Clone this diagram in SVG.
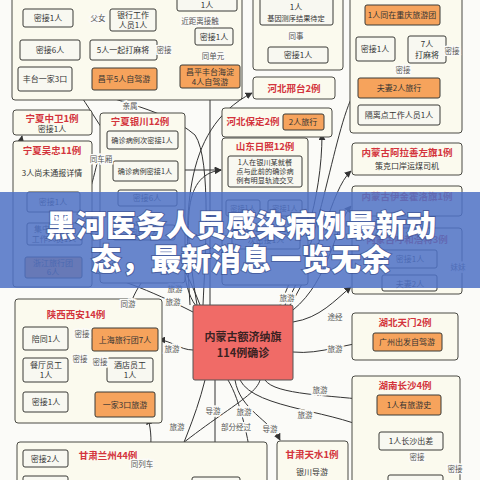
<svg xmlns="http://www.w3.org/2000/svg" width="480" height="480" viewBox="0 0 480 480">
<defs>
<marker id="a" viewBox="0 0 10 10" refX="9" refY="5" markerWidth="7" markerHeight="7" orient="auto-start-reverse"><path d="M0,0 L10,5 L0,10 z" fill="#333"/></marker>
<style>
.c{fill:#fbfaee;stroke:#4a4a44;stroke-width:1}
.b{fill:#f8f8f1;stroke:#3a3a36;stroke-width:1}
.o{fill:#f6a35c;stroke:#3a3a36;stroke-width:1}
text{font-family:"Noto Sans CJK SC","Noto Sans",sans-serif;text-anchor:middle}
.t{font-size:8px;fill:#333}
.s{font-size:7.2px;fill:#333}
.r{font-size:9.5px;fill:#d3343c;font-weight:bold}
.l{font-size:7.5px;fill:#555;paint-order:stroke;stroke:#fbfbf8;stroke-width:3}
.e path,.e line{fill:none;stroke:#333;stroke-width:1}
.m{marker-end:url(#a)}
</style>
</defs>
<rect width="480" height="480" fill="#fbfbf8"/>
<g id="edges" class="e">
<path class="m" d="M210,305 L210,90"/>
<path class="m" d="M200,305 C180,250 110,140 79,93"/>
<path class="m" d="M190,305 C185,220 180,130 252,93"/>
<path d="M72,82 C100,100 160,105 195,135 C212,160 205,260 203,305"/>
<path class="m" d="M280,305 C300,260 322,200 322,134"/>
<path class="m" d="M285,305 C320,250 335,120 356,90"/>
<path class="m" d="M290,305 C320,260 330,190 351,171"/>
<path class="m" d="M293,310 C330,280 335,225 351,206"/>
<path class="m" d="M293,322 C320,318 335,300 351,287"/>
<path class="m" d="M293,352 C320,355 350,342 372,342"/>
<path class="m" d="M197,305 C185,230 180,175 221,170"/>
<path class="m" d="M193,312 C150,290 110,275 83,270"/>
<path class="m" d="M196,306 C180,285 185,245 176,234"/>
<path class="m" d="M193,350 C180,350 170,340 159,340"/>
<path class="m" d="M215,380 L215,476"/>
<path d="M205,380 C195,420 180,450 165,490"/>
<path d="M260,380 C255,400 200,420 130,490"/>
<path class="m" d="M128,490 C150,470 155,445 148,418"/>
<path class="m" d="M265,380 C275,395 330,395 376,401"/>
<path class="m" d="M240,380 C255,410 340,410 378,434"/>
<path class="m" d="M235,380 C240,410 270,420 280,440"/>
<path d="M385,450 C370,460 365,475 362,490"/>
<path d="M228,380 C240,400 250,440 255,490"/>
<path class="m" d="M110,18 L74,18"/>
<path class="m" d="M235,21 L157,21"/>
<path d="M180,76 C165,72 158,45 165,24"/>
<path class="m" d="M213,65 L213,46"/>
<path class="m" d="M90,50 L81,50"/>
<path class="m" d="M296,25 L296,46"/>
<path class="m" d="M408,50 L396,50"/>
<path class="m" d="M380,78 C380,68 425,72 432,64"/>
<path class="m" d="M440,88 C456,80 456,25 441,16"/>
<path class="m" d="M437,283 C460,280 460,262 438,258"/>
<path class="m" d="M411,450 L411,474"/>
<path d="M443,441 C458,445 462,470 456,490"/>
<path class="m" d="M92,339 L69,339"/>
<path class="m" d="M100,351 C95,362 82,370 69,372"/>
<path class="m" d="M103,351 C100,365 100,372 107,374"/>
<path class="m" d="M95,404 L69,404"/>
<path d="M160,262 C140,280 128,300 126,327"/>
<path class="m" d="M75,490 C75,470 76,462 69,459"/>
<path class="m" d="M27,205 C17,190 17,160 22,136"/>
<path class="m" d="M107,143 C95,150 95,195 81,203"/>
<path class="m" d="M185,170 L221,170"/>
<path class="m" d="M245,187 L245,200"/>
<path class="m" d="M285,187 L285,200"/>
<path class="m" d="M265,216 L265,231"/>
</g>
<g id="beijing"><rect class="c" x="12" y="-5" width="230" height="105" rx="3"/></g>
<g id="n_mj1a"><rect class="b" x="23" y="9" width="50" height="18" rx="2"/><text class="t" x="48" y="21">密接1人</text></g>
<g id="n_bank"><rect class="b" x="110" y="9" width="46" height="22" rx="2"/><text class="t" x="133" y="18">银行工作</text><text class="t" x="133" y="28">人员1人</text></g>
<g id="n_mj6a"><rect class="b" x="20" y="40" width="60" height="20" rx="2"/><text class="t" x="50" y="53">密接6人</text></g>
<g id="n_mj5"><rect class="b" x="90" y="40" width="67" height="20" rx="2"/><text class="t" x="123" y="53">5人一起打麻将</text></g>
<g id="n_ft3"><rect class="b" x="18" y="67" width="54" height="24" rx="2"/><text class="t" x="45" y="82">丰台一家3口</text></g>
<g id="n_cp5"><rect class="o" x="92" y="68" width="65" height="22" rx="2"/><text class="t" x="124" y="82">昌平5人自驾游</text></g>
<g id="n_top1"><rect class="b" x="177" y="-5" width="60" height="16" rx="2"/><text class="t" x="207" y="8">1人</text></g>
<g id="n_mj1b"><rect class="b" x="195" y="28" width="38" height="17" rx="2"/><text class="t" x="214" y="40">密接1人</text></g>
<g id="n_cp4"><rect class="o" x="180" y="65" width="60" height="23" rx="2"/><text class="t" x="210" y="75">昌平丰台海淀</text><text class="t" x="210" y="85">4人自驾游</text></g>
<g id="c_b"><rect class="c" x="253" y="-5" width="90" height="75" rx="3"/></g>
<g id="n_gene"><rect class="b" x="260" y="-5" width="73" height="30" rx="2"/><text class="t" x="296" y="10">1人</text><text class="s" x="296" y="21">基因测序结果待定</text></g>
<g id="n_mj1c"><rect class="b" x="268" y="47" width="60" height="16" rx="2"/><text class="t" x="298" y="58">密接1人</text></g>
<g id="n_xt"><rect class="c" x="253" y="77" width="82" height="22" rx="3"/><text class="r" x="294" y="92">河北邢台2例</text></g>
<g id="c_cq"><rect class="c" x="350" y="-5" width="112" height="138" rx="3"/></g>
<g id="n_cq"><rect class="o" x="365" y="5" width="75" height="20" rx="2"/><text class="t" x="402" y="18">1人同在重庆旅游团</text></g>
<g id="n_mj1d"><rect class="b" x="356" y="37" width="39" height="24" rx="2"/><text class="t" x="375" y="52">密接1人</text></g>
<g id="n_7r"><rect class="b" x="408" y="36" width="38" height="27" rx="2"/><text class="t" x="427" y="47">7人</text><text class="t" x="427" y="58">打麻将</text></g>
<g id="n_fq"><rect class="o" x="358" y="78" width="82" height="20" rx="2"/><text class="t" x="399" y="91">夫妻2人旅行</text></g>
<g id="n_gl"><rect class="b" x="358" y="105" width="82" height="20" rx="2"/><text class="t" x="399" y="118">隔离点工作人员1人</text></g>
<g id="n_als"><rect class="c" x="352" y="143" width="110" height="32" rx="3"/><text class="r" x="407" y="156">内蒙古阿拉善左旗1例</text><text class="t" x="407" y="169">策克口岸运煤司机</text></g>
<g id="n_yj"><rect class="c" x="352" y="186" width="110" height="30" rx="3"/><text class="r" x="407" y="200">内蒙古伊金霍洛旗1例</text></g>
<g id="c_hh"><rect class="c" x="352" y="228" width="110" height="66" rx="3"/><text class="r" x="407" y="243">内蒙古呼和浩特3例</text></g>
<g id="n_mj1e"><rect class="b" x="382" y="250" width="55" height="18" rx="2"/><text class="t" x="410" y="262">密接1人</text></g>
<g id="n_fq2"><rect class="b" x="382" y="275" width="55" height="16" rx="2"/><text class="t" x="410" y="287">夫妻2人</text></g>
<g id="c_tm"><rect class="c" x="352" y="313" width="106" height="47" rx="3"/><text class="r" x="405" y="326">湖北天门2例</text></g>
<g id="n_gz"><rect class="o" x="373" y="333" width="69" height="18" rx="2"/><text class="t" x="407" y="345">广州出发自驾游</text></g>
<g id="c_cs"><rect class="c" x="352" y="376" width="108" height="115" rx="3"/><text class="r" x="405" y="389">湖南长沙4例</text></g>
<g id="n_ly"><rect class="o" x="377" y="395" width="64" height="20" rx="2"/><text class="t" x="409" y="408">1人有旅游史</text></g>
<g id="n_cc"><rect class="b" x="379" y="432" width="64" height="18" rx="2"/><text class="t" x="411" y="444">1人长沙出差</text></g>
<g id="n_csb"><rect class="b" x="388" y="475" width="55" height="20" rx="2"/></g>
<g id="c_ts"><rect class="c" x="277" y="441" width="71" height="50" rx="3"/><text class="r" x="312" y="458">甘肃天水1例</text><text class="t" x="312" y="475">银川导游</text></g>
<g id="n_center"><rect x="193" y="305" width="100" height="75" rx="2" fill="#f06b67" stroke="#555" stroke-width="1"/><text x="243" y="341" font-size="11" font-weight="bold" fill="#3a2222">内蒙古额济纳旗</text><text x="243" y="357" font-size="11" font-weight="bold" fill="#3a2222">114例确诊</text></g>
<g id="c_xa"><rect class="c" x="15" y="299" width="147" height="124" rx="3"/><text class="r" x="76" y="318">陕西西安14例</text></g>
<g id="n_pt"><rect class="b" x="23" y="327" width="45" height="23" rx="2"/><text class="t" x="46" y="342">陪同1人</text></g>
<g id="n_sh"><rect class="o" x="92" y="328" width="66" height="23" rx="2"/><text class="t" x="125" y="343">上海旅行团7人</text></g>
<g id="n_ct"><rect class="b" x="23" y="358" width="45" height="24" rx="2"/><text class="t" x="46" y="368">餐厅员工</text><text class="t" x="46" y="378">1人</text></g>
<g id="n_jd"><rect class="b" x="107" y="358" width="46" height="24" rx="2"/><text class="t" x="130" y="368">酒店员工</text><text class="t" x="130" y="378">1人</text></g>
<g id="n_mj1f"><rect class="b" x="23" y="392" width="45" height="20" rx="2"/><text class="t" x="46" y="405">密接1人</text></g>
<g id="n_j3"><rect class="o" x="95" y="392" width="60" height="25" rx="2"/><text class="t" x="125" y="408">一家3口旅游</text></g>
<g id="c_lz"><rect class="c" x="17" y="442" width="250" height="50" rx="3"/><text class="r" x="108" y="459">甘肃兰州44例</text></g>
<g id="n_mj2"><rect class="b" x="23" y="450" width="45" height="17" rx="2"/><text class="t" x="45" y="462">密接2人</text></g>
<g id="n_lzb"><rect class="b" x="23" y="476" width="45" height="14" rx="2"/></g>
<g id="n_lzc"><rect class="b" x="192" y="477" width="48" height="14" rx="2"/></g>
<g id="n_zw"><rect class="c" x="13" y="110" width="79" height="25" rx="3"/><text class="r" x="52" y="122">宁夏中卫1例</text><text class="t" x="52" y="132">密接1人</text></g>
<g id="c_wz"><rect class="c" x="13" y="141" width="79" height="146" rx="3"/><text class="r" x="52" y="154">宁夏吴忠11例</text><text class="t" x="52" y="176">3人尚未通报详情</text></g>
<g id="n_mj1g"><rect class="b" x="27" y="192" width="53" height="20" rx="2"/><text class="t" x="53" y="205">密接1人</text></g>
<g id="n_jz"><rect class="b" x="27" y="223" width="55" height="22" rx="2"/><text class="t" x="54" y="232">集中隔离点</text><text class="t" x="54" y="242">工作人员1人</text></g>
<g id="n_zj"><rect class="o" x="25" y="257" width="57" height="21" rx="2"/><text class="t" x="53" y="266">浙江旅行团</text><text class="t" x="53" y="275">6人</text></g>
<g id="c_yc"><rect class="c" x="100" y="113" width="85" height="170" rx="3"/><text class="r" x="140" y="125">宁夏银川12例</text></g>
<g id="n_ycc"><rect class="b" x="107" y="131" width="71" height="18" rx="2"/><text class="s" x="142" y="143">确诊病例次密接1人</text></g>
<g id="n_ycm"><rect class="b" x="113" y="161" width="65" height="20" rx="2"/><text class="s" x="145" y="174">确诊病例密接1人</text></g>
<g id="n_mj6b"><rect class="b" x="118" y="190" width="59" height="16" rx="2"/><text class="t" x="147" y="201">密接6人</text></g>
<g id="n_tx7"><rect class="b" x="113" y="225" width="62" height="15" rx="2"/><text class="t" x="144" y="236">同行7人</text></g>
<g id="n_bdc"><rect class="c" x="222" y="108" width="110" height="29" rx="3"/><text class="r" x="253" y="125">河北保定2例</text></g>
<g id="n_bd2"><rect class="o" x="283" y="114" width="41" height="16" rx="2"/><text class="t" x="303" y="125">2人旅行</text></g>
<g id="c_rz"><rect class="c" x="222" y="138" width="86" height="147" rx="3"/><text class="r" x="265" y="150">山东日照12例</text></g>
<g id="n_rz1"><rect class="b" x="228" y="156" width="74" height="31" rx="2"/><text class="s" x="265" y="165">1人在银川某就餐</text><text class="s" x="265" y="174">点与此前的确诊病</text><text class="s" x="265" y="183">例有明显轨迹交叉</text></g>
<g id="n_rz2"><rect class="b" x="226" y="200" width="34" height="16" rx="2"/><text class="s" x="243" y="211">密接1人</text></g>
<g id="n_rz3"><rect class="b" x="268" y="200" width="34" height="16" rx="2"/><text class="s" x="285" y="211">密接1人</text></g>
<g id="n_rz4"><rect class="b" x="232" y="231" width="68" height="18" rx="2"/><text class="t" x="266" y="243">次密接1人</text></g>
<g id="labels">
<text class="l" x="98" y="21">父女</text>
<text class="l" x="200" y="24">近距离接触</text>
<text class="l" x="164" y="53">密接</text>
<text class="l" x="213" y="59">同单元</text>
<text class="l" x="296" y="39">同事</text>
<text class="l" x="403" y="73">密接</text>
<text class="l" x="452" y="54">密接</text>
<text class="l" x="130" y="109">亲属</text>
<text class="l" x="101" y="162">同车厢</text>
<text class="l" x="458" y="270">妹妹</text>
<text class="l" x="175" y="292">旅游</text>
<text class="l" x="173" y="305">旅游</text>
<text class="l" x="287" y="301">旅游</text>
<text class="l" x="335" y="320">途经</text>
<text class="l" x="335" y="352">旅游</text>
<text class="l" x="172" y="352">旅游</text>
<text class="l" x="128" y="307">同游</text>
<text class="l" x="82" y="337">密接</text>
<text class="l" x="80" y="362">密接</text>
<text class="l" x="100" y="365">密接</text>
<text class="l" x="213" y="414">导游</text>
<text class="l" x="177" y="430">旅游</text>
<text class="l" x="236" y="430">部分经过</text>
<text class="l" x="244" y="415">旅游</text>
<text class="l" x="142" y="467">同列车</text>
<text class="l" x="320" y="393">旅游</text>
<text class="l" x="305" y="418">旅游</text>
<text class="l" x="270" y="432">导游</text>
<text class="l" x="417" y="460">密接</text>
<text class="l" x="455" y="472">密接</text>
</g>
<g id="banner">
<rect x="0" y="192" width="480" height="96" fill="#4f72c6" fill-opacity="0.86"/>
<text x="241" y="236" font-size="30" font-weight="900" fill="#ffffff" stroke="#2c3c78" stroke-opacity="0.5" stroke-width="2" paint-order="stroke">黑河医务人员感染病例最新动</text>
<text x="241" y="270" font-size="30" font-weight="900" fill="#ffffff" stroke="#2c3c78" stroke-opacity="0.5" stroke-width="2" paint-order="stroke">态，最新消息一览无余</text>
</g>
</svg>
